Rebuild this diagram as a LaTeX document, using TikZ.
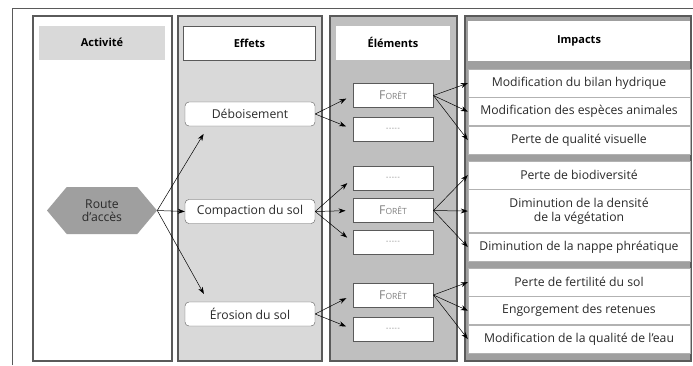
\documentclass[tikz,border=0pt]{standalone}
\usepackage{fontspec}
\setmainfont{Open Sans}
\usetikzlibrary{arrows.meta, positioning, calc, shapes.symbols}

\definecolor{lightgrey}{HTML}{D9D9D9}
\definecolor{midgrey}{HTML}{BFBFBF}
\definecolor{darkgrey}{HTML}{9F9F9F}
\definecolor{framegrey}{HTML}{5A5A5A}
\definecolor{textgrey}{HTML}{2A2A2A}

\newcommand{\foret}{F{\fontsize{8.5}{9}\selectfont ORÊT}}
\newcommand{\tirets}{{\fontsize{7}{8}\selectfont -\kern0.6pt-\kern0.6pt-\kern0.6pt-\kern0.6pt-}}

\begin{document}
\begin{tikzpicture}[
  x=1pt, y=-1pt,
  font=\fontsize{12.2}{13.5}\selectfont\color{textgrey},
  col/.style={draw=framegrey, line width=1.1pt},
  head/.style={inner sep=0pt, font=\fontsize{11}{12}\selectfont\bfseries},
  effet/.style={draw=framegrey, fill=white, rounded corners=4pt, minimum width=130pt, minimum height=24pt, inner sep=0pt},
  elem/.style={draw=framegrey, fill=white, line width=0.9pt, minimum width=80pt, minimum height=24pt, inner sep=0pt, text=gray},
  impact/.style={draw=gray!60, fill=white, minimum width=222pt, minimum height=28pt, inner sep=0pt, align=center},
  arrow/.style={-{Stealth[length=7pt, width=5pt]}, line width=0.5pt}
]
\useasboundingbox (0,0) rectangle (693,365);
\draw[framegrey, line width=0.8pt] (12,365) -- (12,8) -- (693,8);

% columns
\draw[col, fill=white] (33,16) rectangle (172,361);
\draw[col, fill=lightgrey] (178,16) rectangle (322,361);
\draw[col, fill=midgrey] (330,16) rectangle (457,361);
\draw[col, fill=darkgrey] (465,16) rectangle (691,361);

% headers
\node[head, fill=lightgrey, minimum width=126pt, minimum height=34pt] (hact) at (102,42.5) {Activité};
\node[head, draw=framegrey, line width=0.9pt, fill=white, minimum width=132pt, minimum height=34pt] (heff) at (249.5,43) {Effets};
\node[head, fill=white, minimum width=114pt, minimum height=34pt] (helem) at (393,42.5) {Éléments};
\node[head, fill=white, minimum width=222pt, minimum height=40pt] (himp) at (579,41) {Impacts};

% activite
\node[signal, signal to=east and west, signal pointer angle=100, fill=darkgrey, minimum width=110pt, minimum height=47pt, inner sep=0pt, align=center] (route) at (102,210.5) {Route\\d'accès};

% effets
\node[effet] (debois) at (250,114) {Déboisement};
\node[effet] (compac) at (250,211.5) {Compaction du sol};
\node[effet] (erosion) at (250,314) {Érosion du sol};

% elements
\node[elem] (e1) at (393,95.5) {\foret};
\node[elem] (e2) at (393,129) {\tirets};
\node[elem] (e3) at (393,178.5) {\tirets};
\node[elem] (e4) at (393,210.5) {\foret};
\node[elem] (e5) at (393,242) {\tirets};
\node[elem] (e6) at (393,295) {\foret};
\node[elem] (e7) at (393,329) {\tirets};

% impacts
\node[impact, anchor=north] (r1) at (579,69) {Modification du bilan hydrique};
\node[impact, below=0pt of r1] (r2) {Modification des espèces animales};
\node[impact, below=0pt of r2] (r3) {Perte de qualité visuelle};
\node[impact, anchor=north] (r4) at (579,161) {Perte de biodiversité};
\node[impact, below=0pt of r4, minimum height=43pt] (r5) {Diminution de la densité\\de la végétation};
\node[impact, below=0pt of r5] (r6) {Diminution de la nappe phréatique};
\node[impact, anchor=north] (r7) at (579,268) {Perte de fertilité du sol};
\node[impact, below=0pt of r7] (r8) {Engorgement des retenues};
\node[impact, below=0pt of r8] (r9) {Modification de la qualité de l'eau};

% arrows
\draw[arrow, shorten >=9pt] (route.east) -- ($(debois.south west)!0.18!(debois.south east)$);
\draw[arrow] (route.east) -- (compac.west);
\draw[arrow, shorten >=9pt] (route.east) -- ($(erosion.north west)!0.18!(erosion.north east)$);

\foreach \a/\b in {debois/e1, debois/e2, compac/e3, compac/e4, compac/e5, erosion/e6, erosion/e7}
  \draw[arrow, shorten >=7pt] (\a.east) -- (\b.west);

\foreach \a/\b in {e1/r1, e1/r2, e1/r3, e4/r4, e4/r5, e4/r6, e6/r7, e6/r8, e6/r9}
  \draw[arrow] (\a.east) -- (\b.west);
\end{tikzpicture}
\end{document}
